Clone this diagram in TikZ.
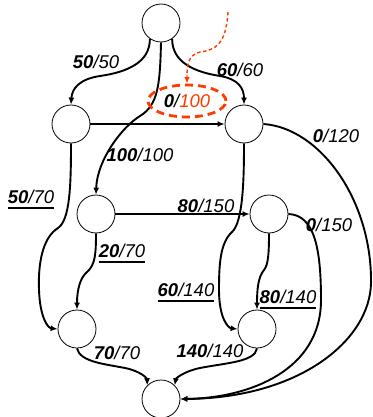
\documentclass[tikz,border=0pt]{standalone}
\usepackage{fontspec}
\setmainfont{Liberation Sans}
\usetikzlibrary{arrows.meta,calc,shapes.geometric}
\definecolor{flowred}{RGB}{255,60,0}
% flow value in bold, capacity in plain (both italic)
\newcommand\flowpair[2]{\textbf{#1}/#2}
\begin{document}
\begin{tikzpicture}[x=1pt,y=-1pt,
  vertex/.style={circle,draw,line width=0.8pt,minimum size=38pt,inner sep=0pt},
  flow/.style={line width=1.9pt,-{Latex[length=7pt,width=6pt]}},
  flowlabel/.style={inner sep=0pt,font=\fontsize{18.5}{20}\selectfont\itshape},
  ulabel/.style={line width=1.8pt},
]
\useasboundingbox (0,0) rectangle (372,417);

% vertices
\node[vertex] (s) at (161,23) {};
\node[vertex] (a) at (71,124) {};
\node[vertex] (b) at (244,124) {};
\node[vertex] (c) at (96,214) {};
\node[vertex] (d) at (269,214) {};
\node[vertex] (e) at (77,329) {};
\node[vertex] (f) at (257,329) {};
\node[vertex] (t) at (161,399) {};

% edges
\draw[flow] (s.235) .. controls (150,62) and (128,72) .. (100,76) .. controls (80,79) and (72,88) .. (a.north);
\draw[flow] (s.305) .. controls (172,62) and (194,72) .. (220,76) .. controls (238,79) and (244,88) .. (b.north);
\draw[flow] (s.south) .. controls (160,85) and (158,105) .. (140,116) .. controls (122,127) and (97,160) .. (c.north);
\draw[flow] (a.east) -- (b.west);
\draw[flow] (b.east) .. controls (320,128) and (372,200) .. (371,283) .. controls (370,340) and (300,398) .. (t.east);
\draw[flow] (b.south) .. controls (244,180) and (243,222) .. (232,232) .. controls (220,243) and (219,265) .. (219,290) .. controls (219,318) and (228,328) .. (f.west);
\draw[flow] (a.south) .. controls (71,185) and (70,220) .. (58,228) .. controls (42,238) and (38,265) .. (39,290) .. controls (40,318) and (48,328) .. (e.west);
\draw[flow] (c.east) -- (d.west);
\draw[flow] (c.south) .. controls (96,255) and (95,265) .. (87,272) .. controls (80,278) and (77,290) .. (e.north);
\draw[flow] (d.south) .. controls (269,255) and (268,265) .. (264,270) .. controls (258,277) and (257,290) .. (f.north);
\draw[flow] (d.east) .. controls (315,215) and (321,250) .. (321,300) .. controls (321,370) and (250,398) .. (t.east);
\draw[flow] (e.south) .. controls (80,362) and (105,364) .. (125,368) .. controls (140,371) and (147,378) .. (t.north west);
\draw[flow] (f.south) .. controls (255,362) and (225,363) .. (200,368) .. controls (185,371) and (176,378) .. (t.north east);

% flow / capacity labels
\node[flowlabel] (l-sa) at (96,62) {\flowpair{50}{50}};
\node[flowlabel] (l-sb) at (240,70) {\flowpair{60}{60}};
\node[flowlabel] (l-sc) at (140,155) {\flowpair{100}{100}};
\node[flowlabel] (l-bt) at (336,136) {\flowpair{0}{120}};
\node[flowlabel] (l-ae) at (31,197) {\flowpair{50}{70}};
\node[flowlabel] (l-cd) at (206,206) {\flowpair{80}{150}};
\node[flowlabel] (l-dt) at (329,225) {\flowpair{0}{150}};
\node[flowlabel] (l-ce) at (122,251) {\flowpair{20}{70}};
\node[flowlabel] (l-bf) at (186,290) {\flowpair{60}{140}};
\node[flowlabel] (l-df) at (288,297) {\flowpair{80}{140}};
\node[flowlabel] (l-et) at (117,353) {\flowpair{70}{70}};
\node[flowlabel] (l-ft) at (210,351) {\flowpair{140}{140}};

% underlines
\foreach \n in {l-ae,l-ce,l-bf,l-df}
  \draw[ulabel] ($(\n.base west)+(0,4)$) -- ($(\n.base east)+(0,4)$);

% highlighted edge a->b with its hint arrow
\node[flowlabel,ellipse,draw=flowred,line width=2.8pt,dash pattern=on 8pt off 5pt,
      minimum width=78pt,minimum height=32pt] (l-ab) at (187,101)
  {\textbf{0}/\textcolor{flowred}{100}};
\coordinate (hint) at (228,12);
\draw[flowred,line width=1.4pt,dash pattern=on 3.5pt off 2.5pt,-{Latex[length=6.5pt,width=5.5pt]}]
  (hint) .. controls (226,45) and (215,50) .. (200,52) .. controls (188,55) and (187,65) .. (l-ab.north);
\end{tikzpicture}
\end{document}
